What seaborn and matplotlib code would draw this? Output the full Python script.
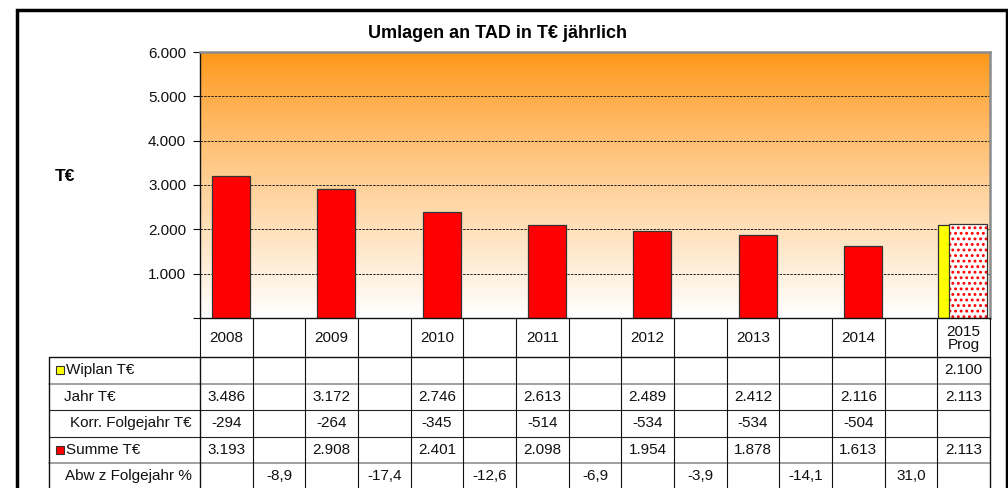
import numpy as np
import pandas as pd
import matplotlib
matplotlib.use("Agg")
import matplotlib.pyplot as plt
import seaborn as sns
from matplotlib.patches import Rectangle

# ---------------- data ----------------
years = ["2008", "2009", "2010", "2011", "2012", "2013", "2014", "2015\nProg"]
summe = [3193, 2908, 2401, 2098, 1954, 1878, 1613, 2113]
wiplan = [None, None, None, None, None, None, None, 2100]
jahr = [3486, 3172, 2746, 2613, 2489, 2412, 2116, 2113]
korr = [-294, -264, -345, -514, -534, -534, -504, None]
abw = [-8.9, -17.4, -12.6, -6.9, -3.9, -14.1, 31.0]
row_labels = ["Wiplan T€", "Jahr T€", "Korr. Folgejahr T€", "Summe T€", "Abw z Folgejahr %"]
yticks = [0, 1000, 2000, 3000, 4000, 5000, 6000]
title = "Umlagen an TAD in T€ jährlich"
ylabel = "T€"

def de_int(v):
    return f"{v:,}".replace(",", ".")

def de_dec(v):
    return f"{v:.1f}".replace(".", ",")

# ---------------- layout ----------------
sns.set_theme(style="white")
plt.rcParams["font.family"] = ["Liberation Sans", "DejaVu Sans"]
plt.rcParams["hatch.linewidth"] = 1.3

W, H = 1008, 488
fig = plt.figure(figsize=(W / 100, H / 100), dpi=100)
fig.patch.set_facecolor("white")

PL, PR, PT, PB = 200, 990, 52, 318
ax = fig.add_axes([PL / W, (H - PB) / H, (PR - PL) / W, (PB - PT) / H])
ncol = 15
ax.set_xlim(-0.5, ncol - 0.5)
ax.set_ylim(0, 6000)

# gradient background
grad = np.linspace(0, 1, 256) ** 0.85  # 0 top -> 1 bottom
top = np.array([255, 150, 22]) / 255
bot = np.array([255, 255, 255]) / 255
img = top[None, :] * (1 - grad[:, None]) + bot[None, :] * grad[:, None]
img = img[:, None, :]
ax.imshow(img, extent=[-0.5, ncol - 0.5, 0, 6000], aspect="auto", origin="upper", zorder=0)

# gridlines
for t in yticks[1:-1]:
    ax.axhline(t, color="#222222", lw=0.7, ls=(0, (2.5, 1.2)), zorder=1)

# bars: Summe 2008-2014
off_red, off_yel = 0.09, -0.12
df = pd.DataFrame({"pos": [2 * i + off_red for i in range(7)], "val": summe[:7]})
sns.barplot(data=df, x="pos", y="val", native_scale=True, width=0.36, color="#FF0000",
            saturation=1, edgecolor="#333333", linewidth=0.9, ax=ax, zorder=3, errorbar=None)
# Wiplan 2015
dfw = pd.DataFrame({"pos": [14 + off_yel], "val": [wiplan[7]]})
sns.barplot(data=dfw, x="pos", y="val", native_scale=True, width=0.72, color="#FFFF00",
            saturation=1, edgecolor="#333333", linewidth=0.9, ax=ax, zorder=3, errorbar=None)
# Summe 2015 prognosis (dotted)
n_before = len(ax.patches)
dfp = pd.DataFrame({"pos": [14 + off_red], "val": [summe[7]]})
sns.barplot(data=dfp, x="pos", y="val", native_scale=True, width=0.72, color="white",
            saturation=1, edgecolor="#FF0000", linewidth=0, hatch="...", ax=ax, zorder=4,
            errorbar=None)
for p in ax.patches[n_before:]:
    p.set_facecolor("white")
    p.set_edgecolor("#FF0000")
    p.set_hatch("...")
    ax.add_patch(Rectangle((p.get_x(), p.get_y()), p.get_width(), p.get_height(),
                           fill=False, edgecolor="#333333", lw=0.9, zorder=5))

ax.set_xlim(-0.5, ncol - 0.5)
ax.set_ylim(0, 6000)
ax.set_xlabel("")
ax.set_ylabel("")
ax.set_xticks([])
ax.set_yticks(yticks)
ax.set_yticklabels(["" if t == 0 else de_int(t) for t in yticks], fontsize=11, color="#111111")
ax.tick_params(axis="y", direction="out", length=5, width=0.8, color="#111111", pad=5, left=True)
for s in ["left", "bottom"]:
    ax.spines[s].set_color("#111111")
    ax.spines[s].set_linewidth(1.0)
for s in ["top", "right"]:
    ax.spines[s].set_color("#8c8c8c")
    ax.spines[s].set_linewidth(1.8)
for s in ax.spines.values():
    s.set_zorder(6)

fig.text(498 / W, 1 - 34 / H, title, ha="center", va="center", fontsize=13,
         fontweight="bold", color="black")
fig.text(65 / W, 1 - 177 / H, ylabel, ha="center", va="center", fontsize=12.5,
         fontweight="bold", color="black")

# ---------------- table ----------------
TL = 49
cw = (PR - PL) / ncol
xl = -0.5 - (PL - TL) / cw
TH = H - PB  # table height in pixels
tax = fig.add_axes([TL / W, 0, (PR - TL) / W, TH / H])
tax.set_xlim(xl, ncol - 0.5)
tax.set_ylim(TH, 0)  # pixels below the plot bottom
tax.axis("off")

def px(xp):
    return xl + (xp - TL) / cw

fs = 11
hdr = 39
rh = 26.5
rows_y = [hdr + i * rh for i in range(6)]
lc = "#111111"
# header cells
for c in range(ncol + 1):
    tax.plot([c - 0.5, c - 0.5], [0, hdr], color=lc, lw=0.8, clip_on=False)
for i, yl in enumerate(years):
    tax.text(2 * i, hdr / 2 + 1, yl, ha="center", va="center", fontsize=fs,
             color="#111111", linespacing=1.0)
# horizontal lines
tax.plot([xl, ncol - 0.5], [hdr, hdr], color=lc, lw=1.0, clip_on=False)
hcols = ["#999999", "#222222", "#222222", "#999999"]
for yv, hc in zip(rows_y[1:5], hcols):
    tax.plot([xl, ncol - 0.5], [yv, yv], color=hc, lw=1.3 if hc == "#999999" else 0.8,
             clip_on=False)
# vertical lines in data rows
tax.plot([xl, xl], [hdr, TH], color=lc, lw=1.0, clip_on=False)
for c in range(ncol + 1):
    tax.plot([c - 0.5, c - 0.5], [hdr, TH], color=lc, lw=1.0 if c in (0, ncol) else 0.8,
             clip_on=False)

# row labels
lab_x = [66, 64, 70, 66, 65]
for r, (lab, lx) in enumerate(zip(row_labels, lab_x)):
    yc = rows_y[r] + rh / 2
    tax.text(px(lx), yc, lab, ha="left", va="center", fontsize=fs, color="#111111")
# legend keys
for r, colr in [(0, "#FFFF00"), (3, "#FF0000")]:
    yc = rows_y[r] + rh / 2
    tax.add_patch(Rectangle((px(56), yc - 4), 8 / cw, 8, facecolor=colr,
                            edgecolor="#333333", lw=0.8))

def cell(r, c, s):
    tax.text(c, rows_y[r] + rh / 2, s, ha="center", va="center", fontsize=fs, color="#111111")

for i in range(8):
    if wiplan[i] is not None:
        cell(0, 2 * i, de_int(wiplan[i]))
    cell(1, 2 * i, de_int(jahr[i]))
    if korr[i] is not None:
        cell(2, 2 * i, de_int(korr[i]))
    cell(3, 2 * i, de_int(summe[i]))
for i, v in enumerate(abw):
    cell(4, 2 * i + 1, de_dec(v))

# outer frame
fig.add_artist(Rectangle((17 / W, -0.05), (1007 - 17) / W, (H - 10) / H + 0.05,
                         transform=fig.transFigure, fill=False, edgecolor="black", lw=2.5))

fig.savefig("out.png", dpi=100)
